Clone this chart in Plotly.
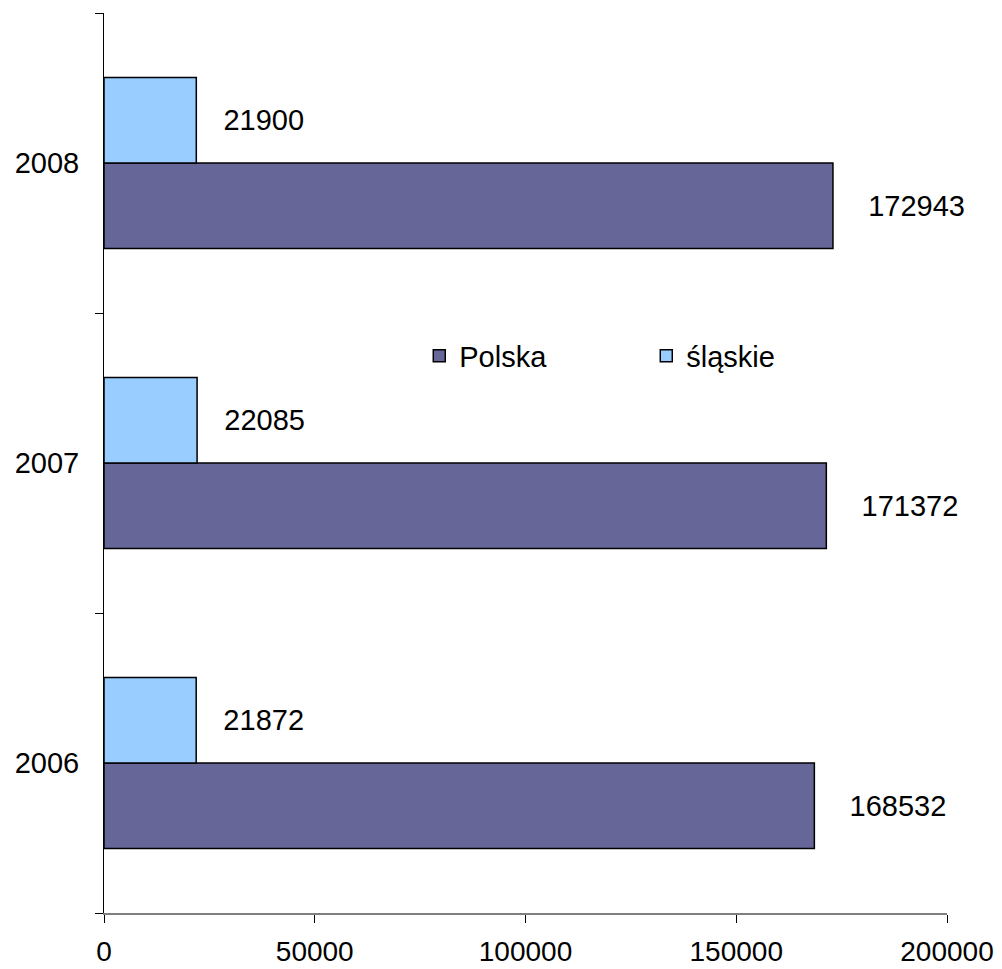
import plotly.graph_objects as go

years = ["2006", "2007", "2008"]
polska = [168532, 171372, 172943]
slaskie = [21872, 22085, 21900]
series_names = ["Polska", "śląskie"]
x_ticks = [0, 50000, 100000, 150000, 200000]

FONT = "Liberation Sans, Arial, sans-serif"
NB = "\u00a0"

fig = go.Figure()
fig.add_trace(go.Bar(
    y=years, x=polska, name=series_names[0], orientation="h",
    marker=dict(color="#666699", line=dict(color="#000000", width=1.5)),
    text=[NB * 4 + str(v) for v in polska], textposition="outside",
    textfont=dict(size=29, color="#000000", family=FONT),
    constraintext="none", cliponaxis=False,
))
fig.add_trace(go.Bar(
    y=years, x=slaskie, name=series_names[1], orientation="h",
    marker=dict(color="#99CCFF", line=dict(color="#000000", width=1.5)),
    text=[NB * 3 + str(v) for v in slaskie], textposition="outside",
    textfont=dict(size=29, color="#000000", family=FONT),
    constraintext="none", cliponaxis=False,
))

# the page body adds an 8px offset; figure is sized to compensate
fig.update_layout(
    width=994, height=961,
    margin=dict(l=96, r=55, t=5, b=56, autoexpand=False),
    paper_bgcolor="white", plot_bgcolor="white",
    barmode="group", bargap=0.43, bargroupgap=0,
    font=dict(family=FONT, size=29, color="#000000"),
    showlegend=True,
    legend=dict(
        orientation="h", x=0.374, y=0.619, xanchor="left", yanchor="middle",
        font=dict(size=29, family=FONT, color="#000000"),
        entrywidth=182, entrywidthmode="pixels",
        bgcolor="rgba(0,0,0,0)", traceorder="normal",
    ),
    xaxis=dict(
        range=[0, 200000], tickvals=x_ticks, ticktext=[str(v) for v in x_ticks],
        showgrid=False, zeroline=False, automargin=False,
        showline=True, linecolor="#808080", linewidth=1.5,
        ticks="outside", ticklen=8, tickcolor="#000000", tickwidth=1,
        ticklabelstandoff=5,
        tickfont=dict(size=28, family=FONT, color="#000000"),
    ),
    yaxis=dict(
        type="category", categoryorder="array", categoryarray=years,
        showgrid=False, zeroline=False, automargin=False,
        showline=True, linecolor="#000000", linewidth=1,
        ticks="outside", ticklen=8, tickcolor="#000000", tickwidth=1,
        tickson="boundaries", ticklabelstandoff=18,
        tickfont=dict(size=29, family=FONT, color="#000000"),
    ),
)

fig.write_html("out.html")
